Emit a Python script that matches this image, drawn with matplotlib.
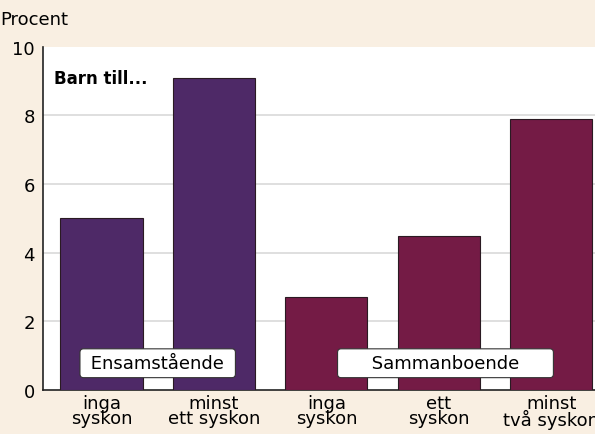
import matplotlib
matplotlib.use("Agg")
import matplotlib.pyplot as plt

plt.rcParams['font.family'] = ['Liberation Sans Narrow', 'DejaVu Sans']

categories = ["inga\nsyskon", "minst\nett syskon", "inga\nsyskon", "ett\nsyskon", "minst\ntvå syskon"]
values = [5.0, 9.1, 2.7, 4.5, 7.9]
groups = ["Ensamstående", "Ensamstående", "Sammanboende", "Sammanboende", "Sammanboende"]
group_colors = {"Ensamstående": "#4e2967", "Sammanboende": "#741b45"}
yticks = [0, 2, 4, 6, 8, 10]

bg = "#f9efe2"
fig = plt.figure(figsize=(5.95, 4.35), dpi=100, facecolor=bg)
ax = fig.add_axes([0.0723, 0.1011, 0.9277, 0.7892])
ax.set_facecolor("white")

x = list(range(len(categories)))
colors = [group_colors[g] for g in groups]
ax.bar(x, values, width=0.73, color=colors, edgecolor="#2a1a22", linewidth=0.8, zorder=3)

ax.set_ylim(0, 10)
ax.set_xlim(-0.52, 4.39)
ax.set_yticks(yticks)
ax.set_yticklabels([str(t) for t in yticks], fontsize=13)
ax.yaxis.grid(True, color="#d9d9d9", linewidth=1.2, zorder=0)
ax.get_ygridlines()[-1].set_visible(False)
ax.get_ygridlines()[0].set_visible(False)
ax.tick_params(axis='y', length=0, pad=6)
ax.set_xticks(x)
ax.set_xticklabels(categories, fontsize=13, linespacing=0.8)
ax.tick_params(axis='x', length=0, pad=3)
for s in ["top", "right"]:
    ax.spines[s].set_visible(False)
for s in ["left", "bottom"]:
    ax.spines[s].set_color("#222222")
    ax.spines[s].set_linewidth(1.2)

fig.text(0.0, 0.955, "Procent", fontsize=13, ha="left", va="center")
ax.text(0.02, 0.91, "Barn till...", transform=ax.transAxes, fontsize=12,
        fontweight="bold", ha="left", va="center")

box = dict(boxstyle="round,pad=0.3,rounding_size=0.2", facecolor="white", edgecolor="#333333", linewidth=0.8)
ax.text(0.5, 0.78, " Ensamstående ", fontsize=13, ha="center", va="center", bbox=box, zorder=5)
ax.text(3.06, 0.78, "     Sammanboende     ", fontsize=13, ha="center", va="center", bbox=box, zorder=5)

fig.savefig("out.png", dpi=100, facecolor=bg)
